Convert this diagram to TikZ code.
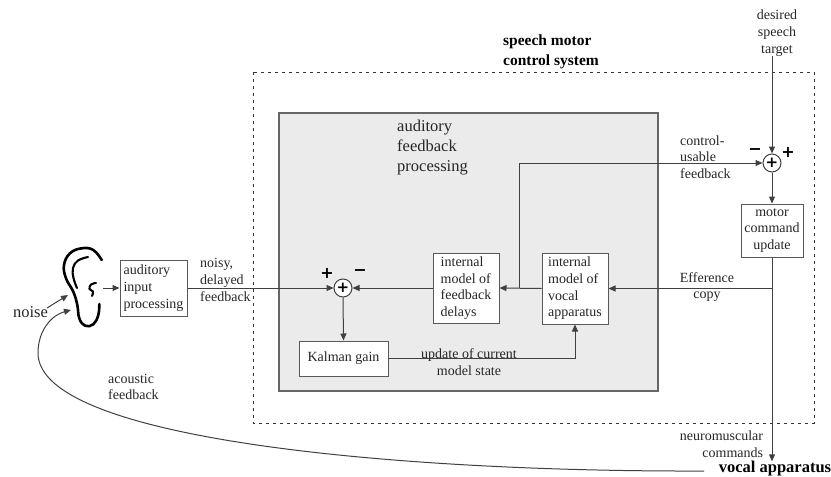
\documentclass[tikz,border=0pt]{standalone}
\usepackage{fontspec}
\setmainfont{Liberation Serif}
\newfontfamily\signfont{DejaVu Sans}
\usetikzlibrary{arrows.meta,calc}
\begin{document}
\begin{tikzpicture}[x=1pt,y=-1pt,
  every node/.style={text=black!85, font=\fontsize{14}{16.7}\selectfont},
  blk/.style={draw=black!65, line width=1pt, fill=white, inner sep=0pt, align=left},
  sumc/.style={circle, draw=black!75, line width=1pt, fill=white, minimum size=18pt, inner sep=0pt, text=black, font=\fontsize{15}{15}\selectfont\signfont\bfseries},
  sgn/.style={inner sep=0pt, text=black, font=\fontsize{16}{16}\selectfont\signfont\bfseries},
  conn/.style={draw=black!75, line width=1pt},
  arr/.style={conn, -{Triangle[length=7pt,width=6pt]}},
  lbl/.style={inner sep=0pt, align=left},
  earline/.style={draw=black, line width=2.6pt, line cap=round, line join=round},
]
\useasboundingbox (0,0) rectangle (831,477);

% gray processing area and dashed system boundary
\draw[draw=black!60, line width=1.2pt, fill=black!8] (279,113) rectangle (658,391);
\draw[draw=black!80, line width=0.9pt, dash pattern=on 3pt off 4pt] (253,72) rectangle (814,423);

% titles
\node[lbl, anchor=west, text=black, font=\fontsize{15.5}{20}\selectfont\bfseries] (sys) at (503,52) {speech motor\\control system};
\node[lbl, anchor=west, font=\fontsize{16.5}{20}\selectfont] (afp) at (397,148) {auditory\\feedback\\processing};

% ear
\draw[earline] plot[smooth, tension=0.7] coordinates {(101.7,260) (93.3,250) (81.7,248.3) (70,253.3) (64,265) (66,278.3) (73.3,291.7) (77.3,305) (79.3,318.3) (85,325.7) (93.3,324.3) (98.3,315) (99.3,304)};
\draw[earline, line width=2.1pt] plot[smooth, tension=0.7] coordinates {(88,257) (78,260.5) (73,268) (73.5,278) (77,288)};
\draw[earline, line width=2.1pt] plot[smooth, tension=0.7] coordinates {(96,283) (91,284.5) (89.5,289) (93,291.5) (92,296)};
\coordinate (earR) at (103,288);
\coordinate (earN) at (68,295);
\coordinate (earC) at (71,310);

% blocks
\node[blk, minimum width=67pt, minimum height=56pt] (aip) at (153.5,288) {auditory\\input\\processing};
\node[blk, minimum width=66pt, minimum height=70pt] (del) at (466,288) {internal\\model of\\feedback\\delays};
\node[blk, minimum width=66pt, minimum height=71pt] (voc) at (575,288.5) {internal\\model of\\vocal\\apparatus};
\node[blk, minimum width=89pt, minimum height=35pt, align=center] (kal) at (343.5,358.5) {Kalman gain};
\node[blk, minimum width=62pt, minimum height=53pt, align=center] (mot) at (772,230.5) {motor\\command\\update};

% summing junctions
\node[sumc] (s1) at (343,288) {+};
\node[sgn] (s1p) at (327,273) {+};
\node[sgn] (s1m) at (360,273) {−};
\node[sumc] (s2) at (772,163) {+};
\node[sgn] (s2m) at (755,152) {−};
\node[sgn] (s2p) at (788,152) {+};

% labels
\node[lbl, font=\fontsize{16.5}{20}\selectfont] (noise) at (30.5,312) {noise};
\node[lbl, anchor=west] (ndf) at (200,280) {noisy,\\delayed\\feedback};
\node[lbl, anchor=west] (cuf) at (680,157) {control-\\usable\\feedback};
\node[lbl, align=center] (tgt) at (777,33) {desired\\speech\\target};
\node[lbl, align=center] (eff) at (707,287) {Efference\\copy};
\node[lbl, align=center] (upd) at (469,362) {update of current\\model state};
\node[lbl, anchor=west] (acf) at (108,387) {acoustic\\feedback};
\node[lbl, align=right] (nmc) at (721.5,444) {neuromuscular\\commands};
\node[lbl, text=black, font=\fontsize{16.5}{20}\selectfont\bfseries] (va) at (775,469) {vocal apparatus};
\coordinate (vaL) at (704,471);
\coordinate (nz) at (47,308);

% connectors
\draw[arr] (earR) -- (aip.west);
\draw[arr] (nz) -- (earN);
\draw[arr] (aip.east) -- (s1.west);
\draw[arr] (del.west) -- (s1.east);
\draw[arr] (voc.west) -- (del.east);
\coordinate (jn) at (519,288);
\draw[arr] (jn) |- (s2.west);
\draw[arr] (s2.north |- tgt.south) -- (s2.north);
\draw[arr] (s2.south) -- (mot.north);
\draw[arr] (mot.south) -- (mot.south |- va.north);
\draw[arr] (mot.south |- voc.east) -- (voc.east);
\draw[arr] (s1.south) -- (kal.north);
\draw[arr] (kal.east) -| (voc.south);
\draw[arr] (vaL) .. controls (400,472) and (38,440) .. (38,353) .. controls (38,330) and (52,315) .. (earC);
\end{tikzpicture}
\end{document}
